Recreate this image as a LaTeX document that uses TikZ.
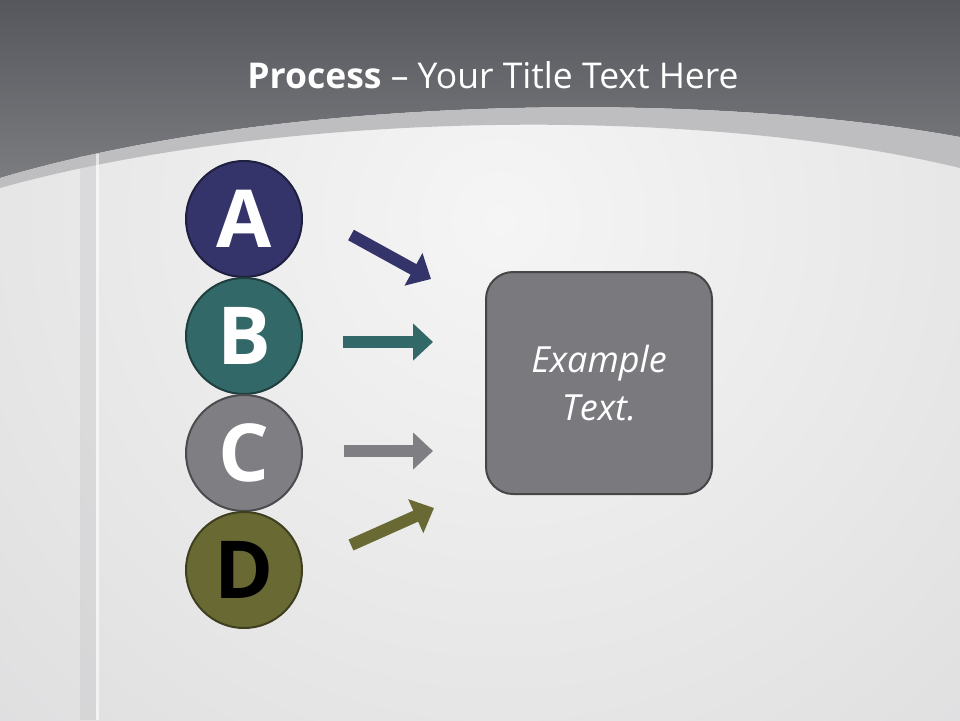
\documentclass[tikz,border=0pt]{standalone}
\usepackage{fontspec}
\setmainfont{Open Sans}
\usetikzlibrary{positioning,arrows.meta}

\definecolor{navy}{HTML}{34346A}
\definecolor{teal}{HTML}{336868}
\definecolor{slate}{HTML}{7E7E83}
\definecolor{olive}{HTML}{696934}
\definecolor{headtop}{HTML}{56575C}
\definecolor{headbot}{HTML}{7B7C80}
\definecolor{band}{HTML}{BEBEC0}
\definecolor{paperin}{HTML}{F5F5F5}
\definecolor{paperout}{HTML}{D3D3D5}

\begin{document}
\begin{tikzpicture}[x = 1pt, y = -1pt,
    letter/.style = {shape = circle, draw = #1!60!black, fill = #1, line width = 2pt,
        minimum size = 116pt, inner sep = 0pt, text = white,
        font = \fontsize{80}{80}\selectfont\bfseries},
    flow/.style = {draw = #1, line width = 12pt,
        -{Triangle[length = 20pt, width = 36pt]}}]
    % background
    \useasboundingbox (0,0) rectangle (960,720);
    \begin{scope}
        \clip (0,0) rectangle (960,720);
        \shade[inner color = paperin, outer color = paperout] (500,220) circle (1100);
    \end{scope}
    \shade[top color = headtop, bottom color = headbot]
        (0,0) -- (960,0) -- (960,137) .. controls (700,90) and (280,95) .. (0,178) -- cycle;
    \fill[band] (0,178) .. controls (280,95) and (700,90) .. (960,137)
        -- (960,168) .. controls (700,105) and (280,110) .. (0,188) -- cycle;
    \fill[paperout!92!black, opacity = 0.35] (80,156) rectangle (96,720);
    \fill[white, opacity = 0.6] (96,154) rectangle (99,720);
    % title
    \node[text = white, font = \fontsize{35.5}{36}\selectfont] (title) at (493,75)
        {\textbf{Process} – Your Title Text Here};
    % circles
    \node[letter = navy] (A) at (244,219) {A};
    \node[letter = teal, below = -1pt of A] (B) {B};
    \node[letter = slate, below = -1pt of B] (C) {C};
    \node[letter = olive, below = -1pt of C, text = black] (D) {D};
    % box
    \node[draw = black!45!gray, fill = slate!96!black, line width = 2pt, rounded corners = 27pt,
        minimum width = 226pt, minimum height = 222pt, align = center, text = white,
        font = \fontsize{36}{48}\selectfont\itshape] (box) at (599,383) {Example\\Text.};
    % arrows
    \coordinate (a1) at (351,235);
    \coordinate (a2) at (431,279);
    \coordinate (b1) at (343,342);
    \coordinate (b2) at (433,342);
    \coordinate (c1) at (344,451);
    \coordinate (c2) at (433,451);
    \coordinate (d1) at (351,545);
    \coordinate (d2) at (434,508);
    \draw[flow = navy] (a1) -- (a2);
    \draw[flow = teal] (b1) -- (b2);
    \draw[flow = slate] (c1) -- (c2);
    \draw[flow = olive] (d1) -- (d2);
\end{tikzpicture}
\end{document}
